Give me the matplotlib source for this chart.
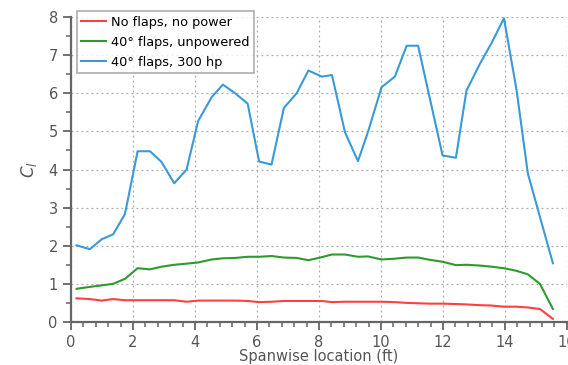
import numpy as np
import matplotlib
matplotlib.use("Agg")
import matplotlib.pyplot as plt
from matplotlib.ticker import MultipleLocator

# spanwise stations (ft)
span = [0.18, 0.61, 0.99, 1.36, 1.74, 2.15, 2.55, 2.92, 3.33, 3.73,
        4.10, 4.54, 4.90, 5.30, 5.70, 6.07, 6.47, 6.87, 7.28, 7.66,
        8.09, 8.42, 8.84, 9.26, 9.58, 10.02, 10.45, 10.83, 11.20, 11.58,
        11.99, 12.42, 12.76, 13.19, 13.57, 13.97, 14.38, 14.74, 15.13, 15.55]

cl_clean = [0.62, 0.60, 0.56, 0.60, 0.57, 0.57, 0.57, 0.57, 0.57, 0.53,
            0.56, 0.56, 0.56, 0.56, 0.55, 0.52, 0.53, 0.55, 0.55, 0.55,
            0.55, 0.52, 0.53, 0.53, 0.53, 0.53, 0.52, 0.50, 0.49, 0.48,
            0.48, 0.47, 0.46, 0.44, 0.43, 0.40, 0.40, 0.38, 0.34, 0.08]

cl_flaps = [0.87, 0.92, 0.96, 1.00, 1.13, 1.41, 1.38, 1.45, 1.50, 1.53,
            1.56, 1.64, 1.67, 1.68, 1.71, 1.71, 1.73, 1.69, 1.68, 1.62,
            1.70, 1.77, 1.77, 1.71, 1.72, 1.64, 1.66, 1.69, 1.69, 1.63,
            1.58, 1.49, 1.50, 1.48, 1.45, 1.41, 1.34, 1.25, 1.00, 0.34]

cl_power = [2.01, 1.91, 2.17, 2.30, 2.83, 4.48, 4.48, 4.20, 3.64, 4.00,
            5.27, 5.90, 6.23, 6.00, 5.73, 4.21, 4.13, 5.62, 6.00, 6.60,
            6.44, 6.48, 4.98, 4.22, 4.98, 6.16, 6.44, 7.25, 7.25, 5.86,
            4.37, 4.31, 6.07, 6.77, 7.32, 7.97, 6.07, 3.90, 2.76, 1.54]

labels = ["No flaps, no power", "40° flaps, unpowered", "40° flaps, 300 hp"]

fig = plt.figure(figsize=(5.68, 3.65), dpi=100)
ax = fig.add_axes([0.125, 0.118, 0.873, 0.835])

ax.plot(span, cl_clean, color="#ff4040", lw=1.5, label=labels[0])
ax.plot(span, cl_flaps, color="#2e9a2e", lw=1.5, label=labels[1])
ax.plot(span, cl_power, color="#3a9ad8", lw=1.5, label=labels[2])

ax.set_xlim(0, 16)
ax.set_ylim(0, 8)
ax.xaxis.set_major_locator(MultipleLocator(2))
ax.xaxis.set_minor_locator(MultipleLocator(0.4))
ax.yaxis.set_major_locator(MultipleLocator(1))
ax.yaxis.set_minor_locator(MultipleLocator(0.5))

ax.grid(True, which="major", ls=(0, (1.5, 2.5)), color="#aaaaaa", lw=0.9)
for s in ["top", "right"]:
    ax.spines[s].set_visible(False)
for s in ["left", "bottom"]:
    ax.spines[s].set_color("#666666")
    ax.spines[s].set_linewidth(1.6)

ax.tick_params(which="major", direction="out", length=6, width=1.3,
               color="#666666", labelcolor="#555555", labelsize=10.5)
ax.tick_params(which="minor", direction="out", length=3.5, width=1.1,
               color="#666666")

ax.set_xlabel("Spanwise location (ft)", fontsize=10.5, color="#555555",
              labelpad=-1)
ax.set_ylabel("$C_l$", fontsize=12, color="#555555", labelpad=7)

leg = ax.legend(loc="upper left", fontsize=9.3, frameon=True, fancybox=False,
                borderpad=0.35, handlelength=1.9, handletextpad=0.4,
                labelspacing=0.55, borderaxespad=0,
                bbox_to_anchor=(0.012, 1.02))
leg.get_frame().set_edgecolor("#999999")
leg.get_frame().set_linewidth(1.2)

fig.savefig("out.png", dpi=100)
